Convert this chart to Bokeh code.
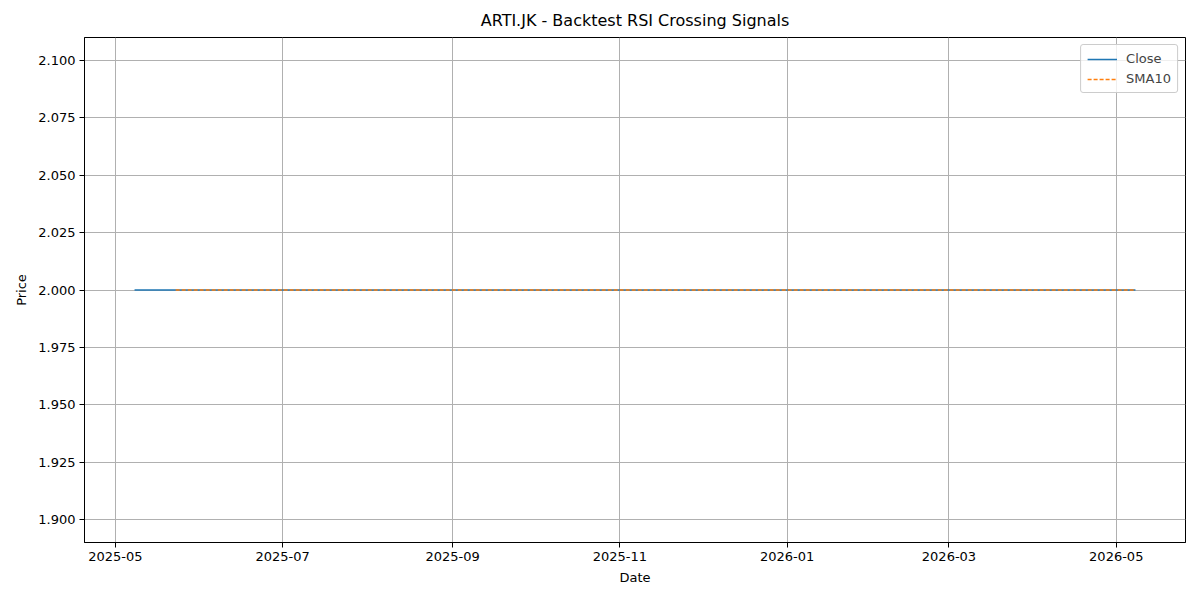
import pandas as pd
import numpy as np
from bokeh.plotting import figure
from bokeh.models import Range1d, FixedTicker, DatetimeTickFormatter, NumeralTickFormatter, ColumnDataSource, Legend, LegendItem
from bokeh.embed import file_html
from bokeh.resources import INLINE

# --- data ---
title = "ARTI.JK - Backtest RSI Crossing Signals"
exchange_holidays = ["2025-05-12", "2025-05-13", "2025-05-29", "2025-05-30", "2025-06-06",
                     "2025-06-09", "2025-06-27", "2025-08-18", "2025-09-05", "2025-12-25",
                     "2025-12-26", "2026-01-01", "2026-01-16", "2026-02-17", "2026-03-19",
                     "2026-03-20", "2026-03-23", "2026-03-24", "2026-04-03", "2026-05-01"]
dates = pd.bdate_range("2025-05-08", "2026-05-08", freq="C", holidays=exchange_holidays)
close = [2.0] * len(dates)
sma_window = 10
sma10 = pd.Series(close).rolling(sma_window).mean().tolist()
x_tick_labels = ["2025-05", "2025-07", "2025-09", "2025-11", "2026-01", "2026-03", "2026-05"]
y_ticks = [1.900, 1.925, 1.950, 1.975, 2.000, 2.025, 2.050, 2.075, 2.100]

FONT = "DejaVu Sans"

src = ColumnDataSource(dict(date=dates, close=close, sma=sma10))

span = dates[-1] - dates[0]
x0 = dates[0] - span * 0.05
x1 = dates[-1] + span * 0.05
lo, hi = 1.9, 2.1
pad = (hi - lo) * 0.05

p = figure(width=1192, height=592, output_backend="svg", toolbar_location=None,
           x_axis_type="datetime",
           x_range=Range1d(x0, x1), y_range=Range1d(lo - pad, hi + pad),
           min_border_left=84, min_border_right=7, min_border_top=26, min_border_bottom=50)

p.title.text = title
p.title.align = "center"
p.title.text_font = FONT
p.title.text_font_size = "16px"
p.title.text_font_style = "normal"
p.title.text_color = "black"
p.title.padding = 3

r1 = p.line("date", "close", source=src, color="#1f77b4", line_width=1.5)
r2 = p.line("date", "sma", source=src, color="#ff7f0e", line_width=1.5, line_dash="4 2")

tick_ms = [pd.Timestamp(s + "-01").value // 10**6 for s in x_tick_labels]
p.xaxis.ticker = FixedTicker(ticks=tick_ms)
fmt = "%Y-%m"
p.xaxis.formatter = DatetimeTickFormatter(days=fmt, months=fmt, years=fmt, hours=fmt, minutes=fmt)
p.yaxis.ticker = FixedTicker(ticks=y_ticks)
p.yaxis.formatter = NumeralTickFormatter(format="0.000")

p.xaxis.axis_label = "Date"
p.yaxis.axis_label = "Price"
for ax in (p.xaxis, p.yaxis):
    ax.axis_label_text_font = FONT
    ax.axis_label_text_font_size = "13px"
    ax.axis_label_text_font_style = "normal"
    ax.axis_label_text_color = "black"
    ax.axis_label_standoff = 6
    ax.major_label_text_font = FONT
    ax.major_label_text_font_size = "13px"
    ax.major_label_text_color = "black"
    ax.major_tick_in = 0
    ax.major_tick_out = 5
    ax.minor_tick_in = 0
    ax.minor_tick_out = 0
    ax.axis_line_color = "black"
    ax.major_tick_line_color = "black"
    ax.major_label_standoff = 4

p.outline_line_color = "black"
p.outline_line_width = 1
p.grid.grid_line_color = "#b0b0b0"
p.grid.grid_line_width = 1

legend = Legend(items=[LegendItem(label="Close", renderers=[r1]),
                       LegendItem(label="SMA10", renderers=[r2])],
                location="top_right")
legend.label_text_font = FONT
legend.label_text_font_size = "13px"
legend.border_line_color = "#cccccc"
legend.border_line_alpha = 1
legend.background_fill_alpha = 0.8
legend.glyph_width = 30
legend.glyph_height = 14
legend.spacing = 5
legend.padding = 6
legend.margin = 7
legend.label_standoff = 9
legend.border_radius = 3
p.add_layout(legend)

open("out.html", "w").write(file_html(p, INLINE))
